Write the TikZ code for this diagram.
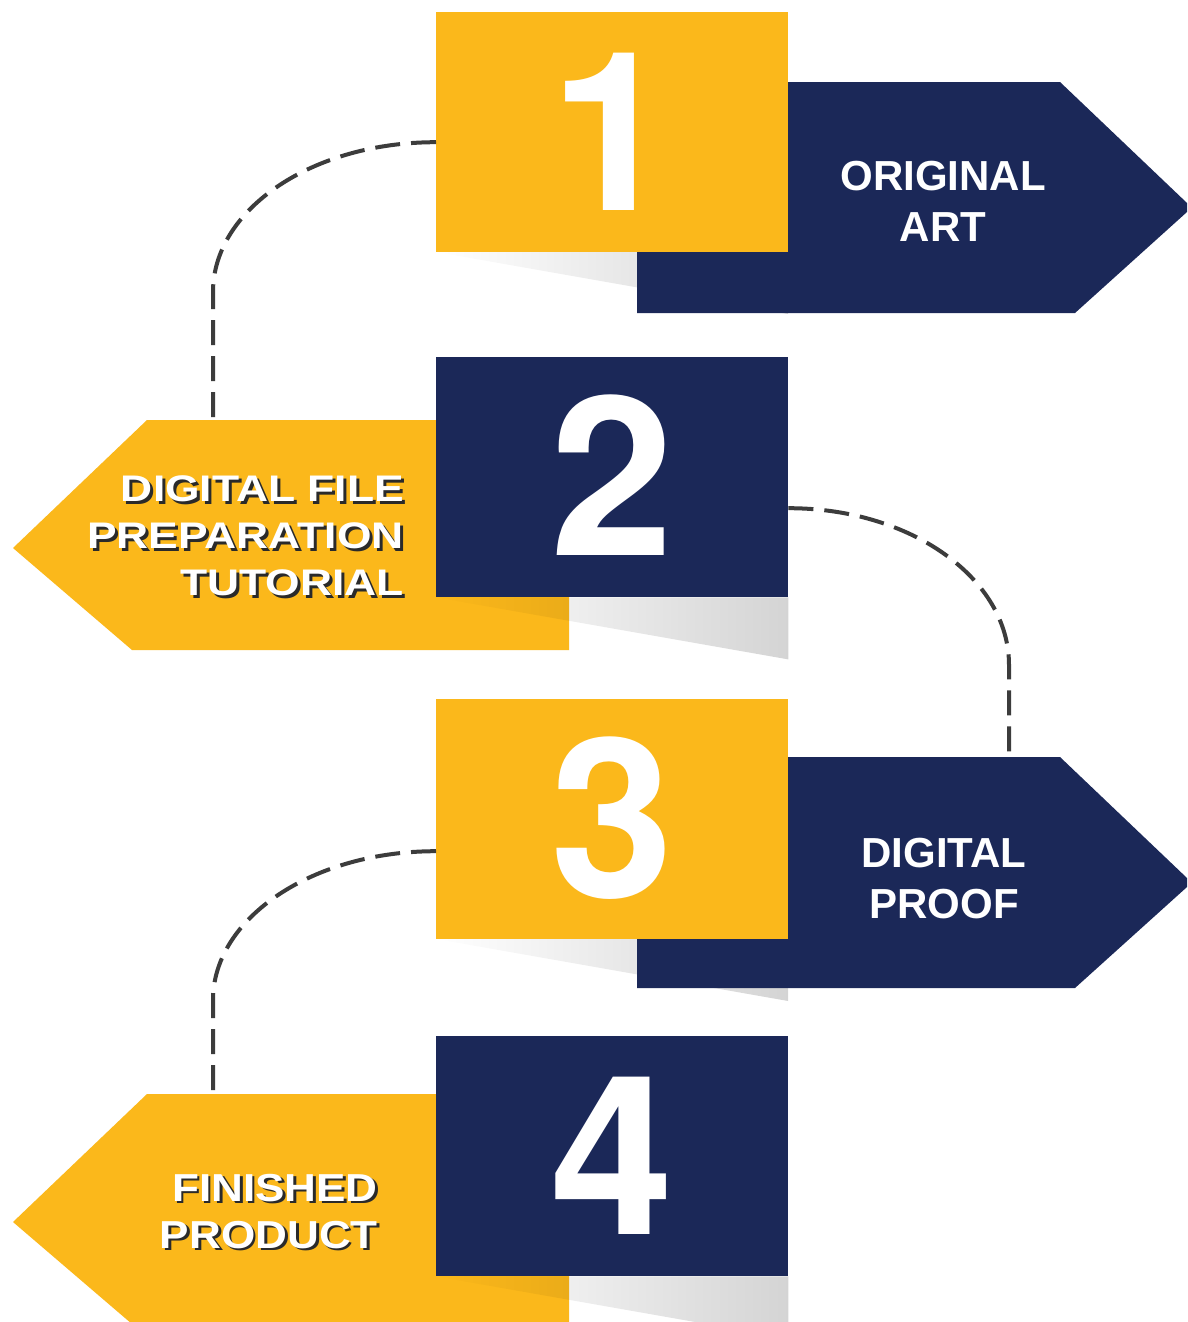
\documentclass[tikz,border=0pt]{standalone}
\usepackage{fontspec}
\setmainfont{Liberation Sans}
\newfontfamily\numfont{TeX Gyre Heros}
\usetikzlibrary{fadings}
\definecolor{ylw}{HTML}{FBB81B}
\definecolor{nvy}{HTML}{1B2858}
\definecolor{dsh}{HTML}{3C3C3C}
\definecolor{tshadow}{HTML}{2A2A2A}
\newcommand\shd[1]{\makebox[0pt][l]{\hspace{2.5pt}\raisebox{-2.5pt}{\textcolor{tshadow}{#1}}}#1}
\begin{document}
\begin{tikzpicture}[x=1pt,y=-1pt,
  numbox/.style={rectangle, minimum width=352pt, minimum height=240pt, inner sep=0pt,
    anchor=north west, text=white, font=\numfont\bfseries\fontsize{222}{222}\selectfont,
    text height=157pt, text depth=0pt},
  conn/.style={draw=dsh, line width=4pt, dash pattern=on 25pt off 11pt},
  navytext/.style={text=white, align=center, inner sep=0pt,
    font=\bfseries\fontsize{42}{51}\selectfont},
  ytexta/.style={align=right, inner sep=0pt, anchor=east, xscale=1.2, text=white,
    font=\bfseries\fontsize{37}{47}\selectfont},
  ytextb/.style={align=right, inner sep=0pt, anchor=east, xscale=1.13, text=white,
    font=\bfseries\fontsize{39}{47}\selectfont},
  boxshadow/.style={fill=black, fill opacity=0.17, path fading=west}
]
\useasboundingbox (0,0) rectangle (1187,1322);
\fill[white] (0,0) rectangle (1187,1322);

% coordinates at arrow tops
\coordinate (a2t) at (213,420);
\coordinate (a3t) at (1009,757);
\coordinate (a4t) at (213,1094);

% shadows of boxes 1 and 3 (behind the navy arrows)
\fill[boxshadow] (436,252) -- (788,252) -- (788,314) -- cycle;
\fill[boxshadow] (436,939) -- (788,939) -- (788,1001) -- cycle;

% arrows
\fill[nvy] (637,82) -- (1060,82) -- (1187,203) -- (1187,212) -- (1075,313) -- (637,313) -- cycle;
\fill[ylw] (147,420) -- (569,420) -- (569,650) -- (132,650) -- (13,548) -- cycle;
\fill[nvy] (637,757) -- (1060,757) -- (1187,878) -- (1187,887) -- (1075,988) -- (637,988) -- cycle;
\fill[ylw] (147,1094) -- (569,1094) -- (569,1324) -- (132,1324) -- (13,1222) -- cycle;

% boxes
\node[numbox, fill=ylw] (b1) at (436,12) {1};
\node[numbox, fill=nvy] (b2) at (436,357) {2};
\node[numbox, fill=ylw] (b3) at (436,699) {3};
\node[numbox, fill=nvy] (b4) at (436,1036) {4};

% connectors
\draw[conn] ([yshift=-10pt]b1.west) .. controls (313,142) and (213,209) .. (213,292) -- (a2t);
\draw[conn] ([yshift=-31pt]b2.east) .. controls (910,508) and (1009,578) .. (1009,665) -- (a3t);
\draw[conn] ([yshift=-32pt]b3.west) .. controls (313,851) and (213,918) .. (213,1000) -- (a4t);

% shadows of boxes 2 and 4 (over the yellow arrows)
\fill[boxshadow] (b2.south west) -- (b2.south east) -- ([yshift=-62pt]b2.south east) -- cycle;
\fill[boxshadow] (b4.south west) -- (b4.south east) -- ([yshift=-62pt]b4.south east) -- cycle;

% texts
\node[navytext] (t1) at (943,201.5) {ORIGINAL\\ART};
\node[navytext] (t3) at (944,879) {DIGITAL\\PROOF};

\node[ytexta] (t2) at (404,537.5) {\shd{DIGITAL FILE}\\\shd{PREPARATION}\\\shd{TUTORIAL}};
\node[ytextb] (t4) at (378,1212.5) {\shd{FINISHED}\\\shd{PRODUCT}};
\end{tikzpicture}
\end{document}
